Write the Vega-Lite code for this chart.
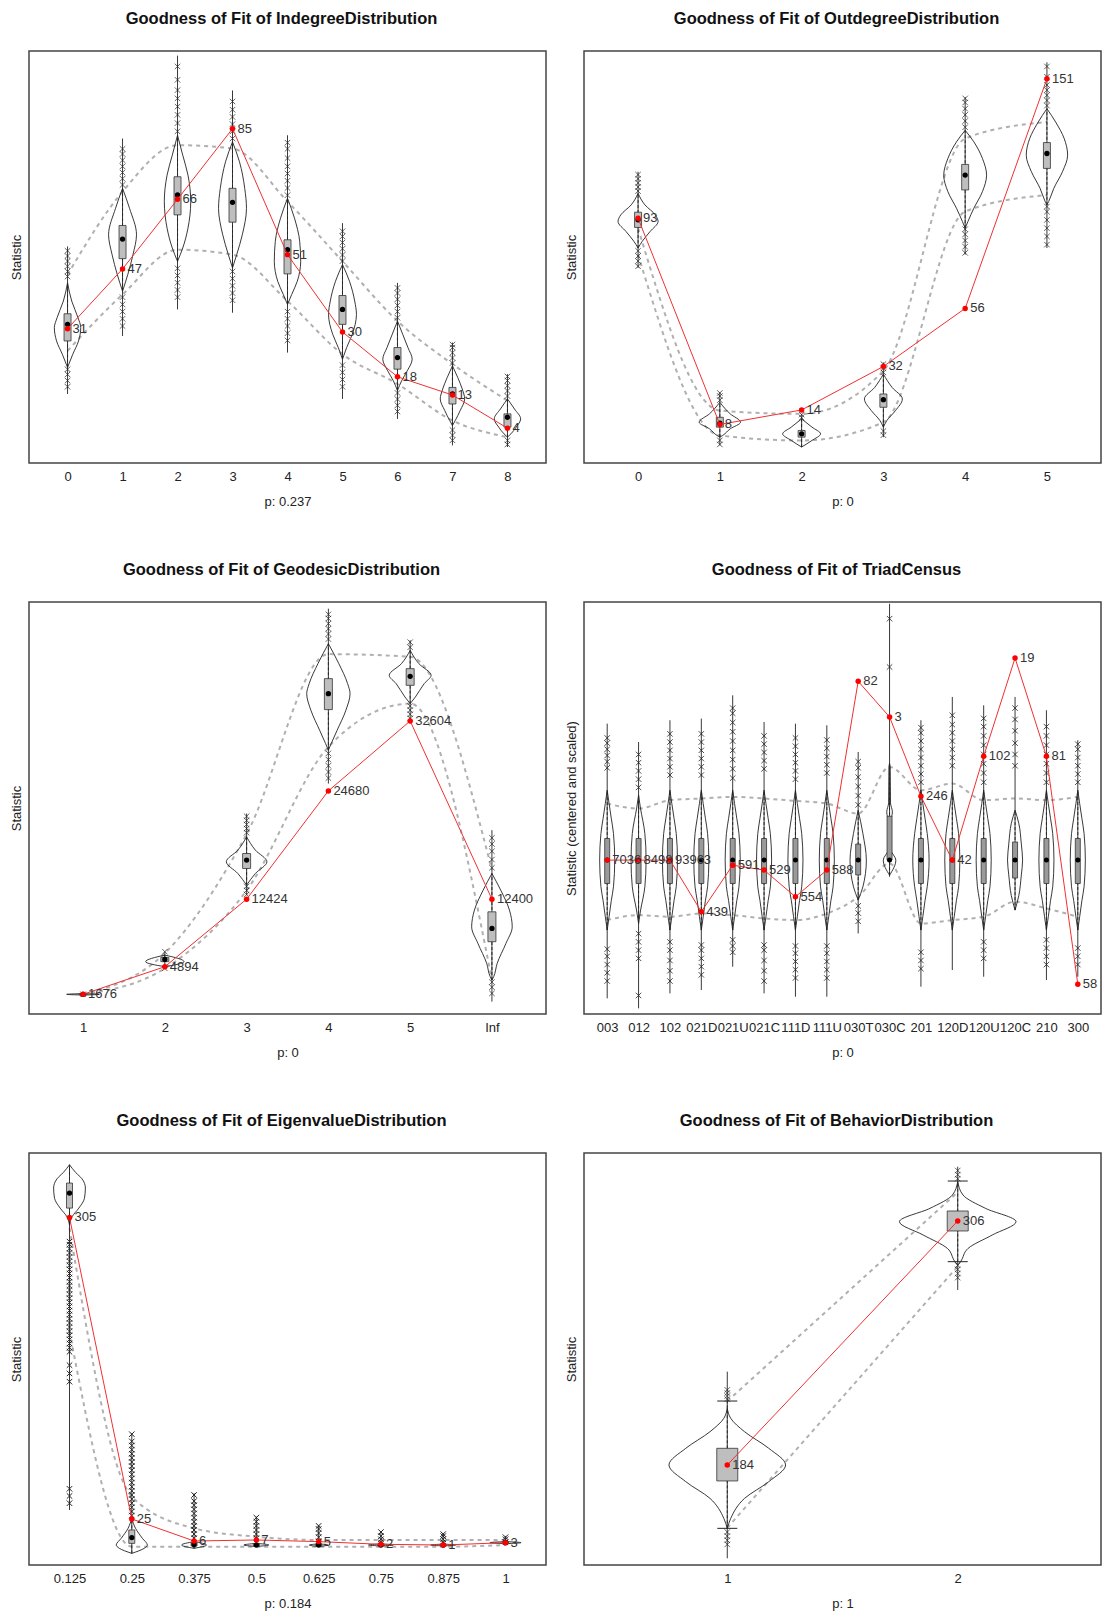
{
"$schema": "https://vega.github.io/schema/vega-lite/v6.json",
"padding": {"left": 9, "top": 9, "right": 0, "bottom": 0},
"config": {
  "font": "Liberation Sans",
  "view": {"stroke": "#444444", "strokeWidth": 1.5},
  "title": {"fontSize": 16.5, "fontWeight": "bold", "font": "Liberation Sans", "offset": 24, "color": "#111111", "dx": -6},
  "axis": {"grid": false, "domain": false, "ticks": false, "labelFontSize": 13, "titleFontSize": 13, "titleFontWeight": "normal", "labelColor": "#222222", "titleColor": "#222222", "labelFont": "Liberation Sans", "titleFont": "Liberation Sans"},
  "axisX": {"labelPadding": 7.5, "titlePadding": 12, "labelAngle": 0, "labelOverlap": false, "labelFlush": false},
  "axisY": {"labels": false, "titlePadding": 6}
},
"datasets": {
"band": [
{"p":1,"c":0,"y":182.9,"q":"hi"},{"p":1,"c":1,"y":263.4,"q":"hi"},{"p":1,"c":2,"y":308.5,"q":"hi"},{"p":1,"c":3,"y":305.3,"q":"hi"},{"p":1,"c":4,"y":253.8,"q":"hi"},{"p":1,"c":5,"y":195.8,"q":"hi"},{"p":1,"c":6,"y":137.8,"q":"hi"},{"p":1,"c":7,"y":96,"q":"hi"},{"p":1,"c":8,"y":60.5,"q":"hi"},
{"p":1,"c":0,"y":108.9,"q":"lo"},{"p":1,"c":1,"y":163.6,"q":"lo"},{"p":1,"c":2,"y":207.1,"q":"lo"},{"p":1,"c":3,"y":202.3,"q":"lo"},{"p":1,"c":4,"y":157.2,"q":"lo"},{"p":1,"c":5,"y":105.6,"q":"lo"},{"p":1,"c":6,"y":76.7,"q":"lo"},{"p":1,"c":7,"y":41.2,"q":"lo"},{"p":1,"c":8,"y":25.1,"q":"lo"},
{"p":2,"c":0,"y":228,"q":"hi"},{"p":2,"c":1,"y":50.9,"q":"hi"},{"p":2,"c":2,"y":47.7,"q":"hi"},{"p":2,"c":3,"y":89.5,"q":"hi"},{"p":2,"c":4,"y":315,"q":"hi"},{"p":2,"c":5,"y":331.1,"q":"hi"},
{"p":2,"c":0,"y":202.3,"q":"lo"},{"p":2,"c":1,"y":26.7,"q":"lo"},{"p":2,"c":2,"y":21.9,"q":"lo"},{"p":2,"c":3,"y":39.6,"q":"lo"},{"p":2,"c":4,"y":244.1,"q":"lo"},{"p":2,"c":5,"y":260.2,"q":"lo"},
{"p":3,"c":0,"y":19.1,"q":"hi"},{"p":3,"c":1,"y":59.1,"q":"hi"},{"p":3,"c":2,"y":174.6,"q":"hi"},{"p":3,"c":3,"y":349.4,"q":"hi"},{"p":3,"c":4,"y":346.8,"q":"hi"},{"p":3,"c":5,"y":139.7,"q":"hi"},
{"p":3,"c":0,"y":19.1,"q":"lo"},{"p":3,"c":1,"y":44.3,"q":"lo"},{"p":3,"c":2,"y":120,"q":"lo"},{"p":3,"c":3,"y":259.3,"q":"lo"},{"p":3,"c":4,"y":301.3,"q":"lo"},{"p":3,"c":5,"y":33,"q":"lo"},
{"p":4,"c":0,"y":204.3,"q":"hi"},{"p":4,"c":1,"y":199.5,"q":"hi"},{"p":4,"c":2,"y":207.6,"q":"hi"},{"p":4,"c":3,"y":209.2,"q":"hi"},{"p":4,"c":4,"y":210.8,"q":"hi"},{"p":4,"c":5,"y":209.2,"q":"hi"},{"p":4,"c":6,"y":206.9,"q":"hi"},{"p":4,"c":7,"y":204.3,"q":"hi"},{"p":4,"c":8,"y":194.6,"q":"hi"},{"p":4,"c":9,"y":239.9,"q":"hi"},{"p":4,"c":10,"y":217.3,"q":"hi"},{"p":4,"c":11,"y":223.7,"q":"hi"},{"p":4,"c":12,"y":207.6,"q":"hi"},{"p":4,"c":13,"y":209.2,"q":"hi"},{"p":4,"c":14,"y":207.6,"q":"hi"},{"p":4,"c":15,"y":210.8,"q":"hi"},
{"p":4,"c":0,"y":91.2,"q":"lo"},{"p":4,"c":1,"y":96,"q":"lo"},{"p":4,"c":2,"y":94.4,"q":"lo"},{"p":4,"c":3,"y":97.6,"q":"lo"},{"p":4,"c":4,"y":96,"q":"lo"},{"p":4,"c":5,"y":92.8,"q":"lo"},{"p":4,"c":6,"y":91.2,"q":"lo"},{"p":4,"c":7,"y":97.6,"q":"lo"},{"p":4,"c":8,"y":113.8,"q":"lo"},{"p":4,"c":9,"y":146.1,"q":"lo"},{"p":4,"c":10,"y":87.9,"q":"lo"},{"p":4,"c":11,"y":91.2,"q":"lo"},{"p":4,"c":12,"y":94.4,"q":"lo"},{"p":4,"c":13,"y":109,"q":"lo"},{"p":4,"c":14,"y":102.5,"q":"lo"},{"p":4,"c":15,"y":94.4,"q":"lo"},
{"p":5,"c":0,"y":327,"q":"hi"},{"p":5,"c":1,"y":66.4,"q":"hi"},{"p":5,"c":2,"y":35.6,"q":"hi"},{"p":5,"c":3,"y":27.5,"q":"hi"},{"p":5,"c":4,"y":24.3,"q":"hi"},{"p":5,"c":5,"y":24.3,"q":"hi"},{"p":5,"c":6,"y":24.3,"q":"hi"},{"p":5,"c":7,"y":24.3,"q":"hi"},
{"p":5,"c":0,"y":226.7,"q":"lo"},{"p":5,"c":1,"y":17.8,"q":"lo"},{"p":5,"c":2,"y":17.8,"q":"lo"},{"p":5,"c":3,"y":17.8,"q":"lo"},{"p":5,"c":4,"y":17.8,"q":"lo"},{"p":5,"c":5,"y":17.8,"q":"lo"},{"p":5,"c":6,"y":17.8,"q":"lo"},{"p":5,"c":7,"y":19.4,"q":"lo"},
{"p":6,"c":0,"y":159,"q":"hi"},{"p":6,"c":1,"y":362,"q":"hi"},
{"p":6,"c":0,"y":36,"q":"lo"},{"p":6,"c":1,"y":290,"q":"lo"}
],
"obs": [
{"p":1,"c":0,"y":130.4,"lab":"31"},{"p":1,"c":1,"y":188.4,"lab":"47"},{"p":1,"c":2,"y":256,"lab":"66"},{"p":1,"c":3,"y":324.6,"lab":"85"},{"p":1,"c":4,"y":202.3,"lab":"51"},{"p":1,"c":5,"y":127.2,"lab":"30"},{"p":1,"c":6,"y":83.7,"lab":"18"},{"p":1,"c":7,"y":66,"lab":"13"},{"p":1,"c":8,"y":33.8,"lab":"4"},
{"p":2,"c":0,"y":237.7,"lab":"93"},{"p":2,"c":1,"y":37.4,"lab":"8"},{"p":2,"c":2,"y":51.5,"lab":"14"},{"p":2,"c":3,"y":93.7,"lab":"32"},{"p":2,"c":4,"y":150.1,"lab":"56"},{"p":2,"c":5,"y":373,"lab":"151"},
{"p":3,"c":0,"y":19.1,"lab":"1676"},{"p":3,"c":1,"y":45.9,"lab":"4894"},{"p":3,"c":2,"y":111.5,"lab":"12424"},{"p":3,"c":3,"y":216.6,"lab":"24680"},{"p":3,"c":4,"y":284.5,"lab":"32604"},{"p":3,"c":5,"y":111.5,"lab":"12400"},
{"p":4,"c":0,"y":149.4,"lab":"7036"},{"p":4,"c":1,"y":149.4,"lab":"8498"},{"p":4,"c":2,"y":149.4,"lab":"93963"},{"p":4,"c":3,"y":99.3,"lab":"439"},{"p":4,"c":4,"y":144.5,"lab":"591"},{"p":4,"c":5,"y":139.7,"lab":"529"},{"p":4,"c":6,"y":113.8,"lab":"554"},{"p":4,"c":7,"y":139.7,"lab":"588"},{"p":4,"c":8,"y":323,"lab":"82"},{"p":4,"c":9,"y":288.4,"lab":"3"},{"p":4,"c":10,"y":211.4,"lab":"246"},{"p":4,"c":11,"y":149.4,"lab":"42"},{"p":4,"c":12,"y":250.2,"lab":"102"},{"p":4,"c":13,"y":345.6,"lab":"19"},{"p":4,"c":14,"y":250.2,"lab":"81"},{"p":4,"c":15,"y":28.8,"lab":"58"},
{"p":5,"c":0,"y":337.4,"lab":"305"},{"p":5,"c":1,"y":44.7,"lab":"25"},{"p":5,"c":2,"y":23.3,"lab":"6"},{"p":5,"c":3,"y":24.3,"lab":"7"},{"p":5,"c":4,"y":22.7,"lab":"5"},{"p":5,"c":5,"y":20.1,"lab":"2"},{"p":5,"c":6,"y":19.4,"lab":"1"},{"p":5,"c":7,"y":21.7,"lab":"3"},
{"p":6,"c":0,"y":97.1,"lab":"184"},{"p":6,"c":1,"y":334,"lab":"306"}
],
"sum": [
{"p":1,"c":0,"lo":118.5,"hi":144.9,"med":134.6,"vlo":92.8,"vhi":174.9,"elo":67,"ehi":210.3},
{"p":1,"c":1,"lo":198.4,"hi":230.6,"med":217.4,"vlo":166.8,"vhi":266.7,"elo":123.3,"ehi":315},
{"p":1,"c":2,"lo":240.9,"hi":277.9,"med":260.2,"vlo":195.8,"vhi":318.2,"elo":149.1,"ehi":395.5},
{"p":1,"c":3,"lo":233.8,"hi":266.7,"med":253.1,"vlo":189.4,"vhi":311.8,"elo":145.9,"ehi":361.7},
{"p":1,"c":4,"lo":183.6,"hi":216.7,"med":207.1,"vlo":153.9,"vhi":257,"elo":107.2,"ehi":318.2},
{"p":1,"c":5,"lo":134.6,"hi":162.6,"med":149.1,"vlo":100.8,"vhi":192.6,"elo":62.2,"ehi":232.9},
{"p":1,"c":6,"lo":91.1,"hi":112.1,"med":102.4,"vlo":70.2,"vhi":137.8,"elo":42.8,"ehi":174.9},
{"p":1,"c":7,"lo":57.3,"hi":73.4,"med":67,"vlo":36.4,"vhi":94.4,"elo":17.1,"ehi":116.9},
{"p":1,"c":8,"lo":34.8,"hi":47.7,"med":44.4,"vlo":25.1,"vhi":62.2,"elo":15.5,"ehi":86.3},
{"p":2,"c":0,"lo":228.7,"hi":243.5,"med":236.1,"vlo":208.7,"vhi":261.8,"elo":189.4,"ehi":282.8},
{"p":2,"c":1,"lo":34.8,"hi":44.4,"med":38.6,"vlo":25.1,"vhi":58.9,"elo":17.1,"ehi":68.6},
{"p":2,"c":2,"lo":25.1,"hi":31.6,"med":28.3,"vlo":15.5,"vhi":42.8,"elo":15.5,"ehi":47.7},
{"p":2,"c":3,"lo":54.1,"hi":67,"med":61.5,"vlo":34.8,"vhi":86.3,"elo":25.1,"ehi":97.6},
{"p":2,"c":4,"lo":265.1,"hi":289.9,"med":279.5,"vlo":228,"vhi":323,"elo":202.3,"ehi":355.2},
{"p":2,"c":5,"lo":286,"hi":311.1,"med":300.5,"vlo":250.6,"vhi":344,"elo":208.7,"ehi":389},
{"p":3,"c":0,"lo":18.7,"hi":19.5,"med":19.1,"vlo":18.4,"vhi":19.8,"elo":19.1,"ehi":19.1},
{"p":3,"c":1,"lo":50.8,"hi":55,"med":53,"vlo":45.9,"vhi":57.2,"elo":44.3,"ehi":60.5},
{"p":3,"c":2,"lo":141.3,"hi":155.8,"med":149.4,"vlo":125.1,"vhi":172,"elo":115.4,"ehi":194.6},
{"p":3,"c":3,"lo":295.5,"hi":325.6,"med":311,"vlo":256.1,"vhi":359.5,"elo":223.7,"ehi":393.5},
{"p":3,"c":4,"lo":319.1,"hi":335.3,"med":327.8,"vlo":301.3,"vhi":353,"elo":285.2,"ehi":362.8},
{"p":3,"c":5,"lo":70.2,"hi":99.2,"med":83.1,"vlo":33,"vhi":136.4,"elo":12,"ehi":178.5},
{"p":4,"c":0,"lo":126.7,"hi":170.4,"med":149.4,"vlo":81.5,"vhi":217.3,"elo":15.2,"ehi":281.9},
{"p":4,"c":1,"lo":126.7,"hi":170.4,"med":149.4,"vlo":87.9,"vhi":212.4,"elo":5.5,"ehi":264.1},
{"p":4,"c":2,"lo":126.7,"hi":170.4,"med":149.4,"vlo":81.5,"vhi":217.3,"elo":20,"ehi":285.2},
{"p":4,"c":3,"lo":126.7,"hi":170.4,"med":149.4,"vlo":81.5,"vhi":217.3,"elo":23.3,"ehi":286.8},
{"p":4,"c":4,"lo":126.7,"hi":170.4,"med":149.4,"vlo":81.5,"vhi":217.3,"elo":45.9,"ehi":309.4},
{"p":4,"c":5,"lo":126.7,"hi":170.4,"med":149.4,"vlo":81.5,"vhi":217.3,"elo":20,"ehi":283.5},
{"p":4,"c":6,"lo":126.7,"hi":170.4,"med":149.4,"vlo":81.5,"vhi":217.3,"elo":16.8,"ehi":281.9},
{"p":4,"c":7,"lo":126.7,"hi":170.4,"med":149.4,"vlo":81.5,"vhi":217.3,"elo":16.8,"ehi":280.3},
{"p":4,"c":8,"lo":135,"hi":165,"med":149.4,"vlo":110.6,"vhi":197.9,"elo":78.2,"ehi":254.4},
{"p":4,"c":9,"lo":149.4,"hi":192,"med":149.4,"vlo":134.8,"vhi":243.1,"elo":133.2,"ehi":398.3},
{"p":4,"c":10,"lo":126.7,"hi":170.4,"med":149.4,"vlo":81.5,"vhi":217.3,"elo":26.5,"ehi":285.2},
{"p":4,"c":11,"lo":126.7,"hi":170.4,"med":149.4,"vlo":81.5,"vhi":217.3,"elo":42.7,"ehi":307.8},
{"p":4,"c":12,"lo":126.7,"hi":170.4,"med":149.4,"vlo":81.5,"vhi":217.3,"elo":36.2,"ehi":299.7},
{"p":4,"c":13,"lo":132,"hi":167,"med":149.4,"vlo":100.9,"vhi":197.9,"elo":100.9,"ehi":307.8},
{"p":4,"c":14,"lo":126.7,"hi":170.4,"med":149.4,"vlo":81.5,"vhi":217.3,"elo":33,"ehi":294.9},
{"p":4,"c":15,"lo":126.7,"hi":170.4,"med":149.4,"vlo":81.5,"vhi":217.3,"elo":36.2,"ehi":265.8},
{"p":5,"c":0,"lo":346.5,"hi":370.8,"med":361.1,"vlo":330,"vhi":388.6,"elo":53.4,"ehi":388.6},
{"p":5,"c":1,"lo":21,"hi":34,"med":26.6,"vlo":11.3,"vhi":45.3,"elo":11.3,"ehi":127.9},
{"p":5,"c":2,"lo":18.5,"hi":21.5,"med":20,"vlo":16.2,"vhi":22.7,"elo":16.2,"ehi":69.6},
{"p":5,"c":3,"lo":18.5,"hi":20.5,"med":19.4,"vlo":18,"vhi":21,"elo":18,"ehi":47},
{"p":5,"c":4,"lo":18.5,"hi":20.5,"med":19.4,"vlo":18,"vhi":20.5,"elo":18,"ehi":38.9},
{"p":5,"c":5,"lo":18.5,"hi":20.5,"med":19.4,"vlo":18.5,"vhi":20.5,"elo":18.5,"ehi":32.4},
{"p":5,"c":6,"lo":18.5,"hi":20.3,"med":19.4,"vlo":18.5,"vhi":20.3,"elo":18.5,"ehi":30.8},
{"p":5,"c":7,"lo":20.7,"hi":22.7,"med":21.7,"vlo":20.7,"vhi":22.7,"elo":20.7,"ehi":28},
{"p":6,"c":0,"lo":81.6,"hi":113.3,"med":97.1,"vlo":35.6,"vhi":159.2,"elo":6.5,"ehi":187.7},
{"p":6,"c":1,"lo":324.3,"hi":343.7,"med":334,"vlo":294.5,"vhi":372.8,"elo":267,"ehi":386.7}
],
"caps": [
{"p":6,"c":0,"y":35.6},{"p":6,"c":0,"y":159.2},{"p":6,"c":1,"y":294.5},{"p":6,"c":1,"y":372.8}
],
"crs": [
{"p":1,"c":0,"y":181},{"p":1,"c":0,"y":186},{"p":1,"c":0,"y":191},{"p":1,"c":0,"y":196},{"p":1,"c":0,"y":201},{"p":1,"c":0,"y":206},{"p":1,"c":0,"y":74},{"p":1,"c":0,"y":80},{"p":1,"c":0,"y":86},{"p":1,"c":0,"y":91},
{"p":1,"c":1,"y":270},{"p":1,"c":1,"y":276},{"p":1,"c":1,"y":282},{"p":1,"c":1,"y":288},{"p":1,"c":1,"y":294},{"p":1,"c":1,"y":300},{"p":1,"c":1,"y":305},{"p":1,"c":1,"y":133},{"p":1,"c":1,"y":140},{"p":1,"c":1,"y":147},{"p":1,"c":1,"y":154},{"p":1,"c":1,"y":161},
{"p":1,"c":2,"y":322},{"p":1,"c":2,"y":330},{"p":1,"c":2,"y":338},{"p":1,"c":2,"y":346},{"p":1,"c":2,"y":354},{"p":1,"c":2,"y":362},{"p":1,"c":2,"y":372},{"p":1,"c":2,"y":385},{"p":1,"c":2,"y":161},{"p":1,"c":2,"y":168},{"p":1,"c":2,"y":175},{"p":1,"c":2,"y":182},{"p":1,"c":2,"y":189},
{"p":1,"c":3,"y":315},{"p":1,"c":3,"y":322},{"p":1,"c":3,"y":329},{"p":1,"c":3,"y":336},{"p":1,"c":3,"y":343},{"p":1,"c":3,"y":351},{"p":1,"c":3,"y":158},{"p":1,"c":3,"y":165},{"p":1,"c":3,"y":172},{"p":1,"c":3,"y":179},{"p":1,"c":3,"y":186},
{"p":1,"c":4,"y":260},{"p":1,"c":4,"y":267},{"p":1,"c":4,"y":274},{"p":1,"c":4,"y":281},{"p":1,"c":4,"y":288},{"p":1,"c":4,"y":296},{"p":1,"c":4,"y":305},{"p":1,"c":4,"y":311},{"p":1,"c":4,"y":119},{"p":1,"c":4,"y":126},{"p":1,"c":4,"y":133},{"p":1,"c":4,"y":140},{"p":1,"c":4,"y":147},
{"p":1,"c":5,"y":196},{"p":1,"c":5,"y":202},{"p":1,"c":5,"y":208},{"p":1,"c":5,"y":214},{"p":1,"c":5,"y":220},{"p":1,"c":5,"y":225},{"p":1,"c":5,"y":74},{"p":1,"c":5,"y":81},{"p":1,"c":5,"y":88},{"p":1,"c":5,"y":95},
{"p":1,"c":6,"y":141},{"p":1,"c":6,"y":147},{"p":1,"c":6,"y":153},{"p":1,"c":6,"y":159},{"p":1,"c":6,"y":165},{"p":1,"c":6,"y":170},{"p":1,"c":6,"y":50},{"p":1,"c":6,"y":56},{"p":1,"c":6,"y":62},{"p":1,"c":6,"y":68},
{"p":1,"c":7,"y":97},{"p":1,"c":7,"y":102},{"p":1,"c":7,"y":107},{"p":1,"c":7,"y":112},{"p":1,"c":7,"y":115},{"p":1,"c":7,"y":22},{"p":1,"c":7,"y":27},{"p":1,"c":7,"y":32},
{"p":1,"c":8,"y":65},{"p":1,"c":8,"y":70},{"p":1,"c":8,"y":75},{"p":1,"c":8,"y":80},{"p":1,"c":8,"y":84},{"p":1,"c":8,"y":18},{"p":1,"c":8,"y":22},
{"p":2,"c":0,"y":264},{"p":2,"c":0,"y":268},{"p":2,"c":0,"y":272},{"p":2,"c":0,"y":276},{"p":2,"c":0,"y":280},{"p":2,"c":0,"y":191},{"p":2,"c":0,"y":196},{"p":2,"c":0,"y":201},{"p":2,"c":0,"y":206},
{"p":2,"c":1,"y":61},{"p":2,"c":1,"y":65},{"p":2,"c":1,"y":68},{"p":2,"c":1,"y":18},{"p":2,"c":1,"y":22},
{"p":2,"c":2,"y":44},{"p":2,"c":2,"y":47},
{"p":2,"c":3,"y":88},{"p":2,"c":3,"y":92},{"p":2,"c":3,"y":96},{"p":2,"c":3,"y":27},{"p":2,"c":3,"y":31},
{"p":2,"c":4,"y":326},{"p":2,"c":4,"y":332},{"p":2,"c":4,"y":338},{"p":2,"c":4,"y":344},{"p":2,"c":4,"y":350},{"p":2,"c":4,"y":354},{"p":2,"c":4,"y":204},{"p":2,"c":4,"y":210},{"p":2,"c":4,"y":216},{"p":2,"c":4,"y":222},{"p":2,"c":4,"y":227},
{"p":2,"c":5,"y":347},{"p":2,"c":5,"y":352},{"p":2,"c":5,"y":357},{"p":2,"c":5,"y":362},{"p":2,"c":5,"y":367},{"p":2,"c":5,"y":375},{"p":2,"c":5,"y":385},{"p":2,"c":5,"y":212},{"p":2,"c":5,"y":220},{"p":2,"c":5,"y":228},{"p":2,"c":5,"y":236},{"p":2,"c":5,"y":244},{"p":2,"c":5,"y":249},
{"p":3,"c":0,"y":19.1},
{"p":3,"c":1,"y":60.5},{"p":3,"c":1,"y":44.3},
{"p":3,"c":2,"y":176},{"p":3,"c":2,"y":180},{"p":3,"c":2,"y":184},{"p":3,"c":2,"y":188},{"p":3,"c":2,"y":192},{"p":3,"c":2,"y":116},{"p":3,"c":2,"y":120},{"p":3,"c":2,"y":124},
{"p":3,"c":3,"y":364},{"p":3,"c":3,"y":369},{"p":3,"c":3,"y":374},{"p":3,"c":3,"y":379},{"p":3,"c":3,"y":384},{"p":3,"c":3,"y":388},{"p":3,"c":3,"y":229},{"p":3,"c":3,"y":235},{"p":3,"c":3,"y":241},{"p":3,"c":3,"y":247},{"p":3,"c":3,"y":253},
{"p":3,"c":4,"y":356},{"p":3,"c":4,"y":361},{"p":3,"c":4,"y":287},{"p":3,"c":4,"y":291},{"p":3,"c":4,"y":295},{"p":3,"c":4,"y":299},
{"p":3,"c":5,"y":142},{"p":3,"c":5,"y":150},{"p":3,"c":5,"y":158},{"p":3,"c":5,"y":165},{"p":3,"c":5,"y":171},{"p":3,"c":5,"y":20},{"p":3,"c":5,"y":26},{"p":3,"c":5,"y":31},
{"p":4,"c":0,"y":239},{"p":4,"c":0,"y":245},{"p":4,"c":0,"y":251},{"p":4,"c":0,"y":257},{"p":4,"c":0,"y":263},{"p":4,"c":0,"y":268},{"p":4,"c":0,"y":32},{"p":4,"c":0,"y":40},{"p":4,"c":0,"y":48},{"p":4,"c":0,"y":56},{"p":4,"c":0,"y":63},
{"p":4,"c":1,"y":220},{"p":4,"c":1,"y":228},{"p":4,"c":1,"y":236},{"p":4,"c":1,"y":244},{"p":4,"c":1,"y":252},{"p":4,"c":1,"y":54},{"p":4,"c":1,"y":62},{"p":4,"c":1,"y":70},{"p":4,"c":1,"y":78},{"p":4,"c":1,"y":18},
{"p":4,"c":2,"y":232},{"p":4,"c":2,"y":240},{"p":4,"c":2,"y":248},{"p":4,"c":2,"y":256},{"p":4,"c":2,"y":264},{"p":4,"c":2,"y":272},{"p":4,"c":2,"y":32},{"p":4,"c":2,"y":42},{"p":4,"c":2,"y":52},{"p":4,"c":2,"y":62},{"p":4,"c":2,"y":70},
{"p":4,"c":3,"y":232},{"p":4,"c":3,"y":240},{"p":4,"c":3,"y":248},{"p":4,"c":3,"y":256},{"p":4,"c":3,"y":264},{"p":4,"c":3,"y":272},{"p":4,"c":3,"y":38},{"p":4,"c":3,"y":46},{"p":4,"c":3,"y":54},{"p":4,"c":3,"y":62},{"p":4,"c":3,"y":67},
{"p":4,"c":4,"y":229},{"p":4,"c":4,"y":238},{"p":4,"c":4,"y":247},{"p":4,"c":4,"y":256},{"p":4,"c":4,"y":265},{"p":4,"c":4,"y":274},{"p":4,"c":4,"y":283},{"p":4,"c":4,"y":292},{"p":4,"c":4,"y":297},{"p":4,"c":4,"y":60},{"p":4,"c":4,"y":66},{"p":4,"c":4,"y":72},
{"p":4,"c":5,"y":238},{"p":4,"c":5,"y":246},{"p":4,"c":5,"y":254},{"p":4,"c":5,"y":262},{"p":4,"c":5,"y":270},{"p":4,"c":5,"y":32},{"p":4,"c":5,"y":42},{"p":4,"c":5,"y":52},{"p":4,"c":5,"y":62},{"p":4,"c":5,"y":67},
{"p":4,"c":6,"y":228},{"p":4,"c":6,"y":236},{"p":4,"c":6,"y":244},{"p":4,"c":6,"y":252},{"p":4,"c":6,"y":260},{"p":4,"c":6,"y":268},{"p":4,"c":6,"y":35},{"p":4,"c":6,"y":43},{"p":4,"c":6,"y":51},{"p":4,"c":6,"y":59},{"p":4,"c":6,"y":66},
{"p":4,"c":7,"y":234},{"p":4,"c":7,"y":242},{"p":4,"c":7,"y":250},{"p":4,"c":7,"y":258},{"p":4,"c":7,"y":266},{"p":4,"c":7,"y":35},{"p":4,"c":7,"y":43},{"p":4,"c":7,"y":51},{"p":4,"c":7,"y":59},{"p":4,"c":7,"y":66},
{"p":4,"c":8,"y":203},{"p":4,"c":8,"y":212},{"p":4,"c":8,"y":221},{"p":4,"c":8,"y":230},{"p":4,"c":8,"y":239},{"p":4,"c":8,"y":245},{"p":4,"c":8,"y":90},{"p":4,"c":8,"y":98},{"p":4,"c":8,"y":105},
{"p":4,"c":9,"y":383.8},{"p":4,"c":9,"y":336.9},
{"p":4,"c":10,"y":225},{"p":4,"c":10,"y":233},{"p":4,"c":10,"y":241},{"p":4,"c":10,"y":249},{"p":4,"c":10,"y":257},{"p":4,"c":10,"y":265},{"p":4,"c":10,"y":273},{"p":4,"c":10,"y":278},{"p":4,"c":10,"y":44},{"p":4,"c":10,"y":52},{"p":4,"c":10,"y":60},
{"p":4,"c":11,"y":241},{"p":4,"c":11,"y":249},{"p":4,"c":11,"y":257},{"p":4,"c":11,"y":265},{"p":4,"c":11,"y":273},{"p":4,"c":11,"y":281},{"p":4,"c":11,"y":290},
{"p":4,"c":12,"y":225},{"p":4,"c":12,"y":234},{"p":4,"c":12,"y":243},{"p":4,"c":12,"y":252},{"p":4,"c":12,"y":261},{"p":4,"c":12,"y":270},{"p":4,"c":12,"y":279},{"p":4,"c":12,"y":287},{"p":4,"c":12,"y":54},{"p":4,"c":12,"y":62},{"p":4,"c":12,"y":70},
{"p":4,"c":13,"y":241},{"p":4,"c":13,"y":252},{"p":4,"c":13,"y":263},{"p":4,"c":13,"y":275},{"p":4,"c":13,"y":286},{"p":4,"c":13,"y":297},
{"p":4,"c":14,"y":225},{"p":4,"c":14,"y":234},{"p":4,"c":14,"y":243},{"p":4,"c":14,"y":252},{"p":4,"c":14,"y":261},{"p":4,"c":14,"y":270},{"p":4,"c":14,"y":279},{"p":4,"c":14,"y":48},{"p":4,"c":14,"y":56},{"p":4,"c":14,"y":64},{"p":4,"c":14,"y":72},
{"p":4,"c":15,"y":225},{"p":4,"c":15,"y":233},{"p":4,"c":15,"y":241},{"p":4,"c":15,"y":249},{"p":4,"c":15,"y":257},{"p":4,"c":15,"y":262},{"p":4,"c":15,"y":48},{"p":4,"c":15,"y":56},{"p":4,"c":15,"y":64},
{"p":5,"c":0,"y":178},{"p":5,"c":0,"y":186},{"p":5,"c":0,"y":194},{"p":5,"c":0,"y":207},{"p":5,"c":0,"y":211},{"p":5,"c":0,"y":215},{"p":5,"c":0,"y":219},{"p":5,"c":0,"y":223},{"p":5,"c":0,"y":227},{"p":5,"c":0,"y":231},{"p":5,"c":0,"y":235},{"p":5,"c":0,"y":239},{"p":5,"c":0,"y":243},{"p":5,"c":0,"y":247},{"p":5,"c":0,"y":251},{"p":5,"c":0,"y":255},{"p":5,"c":0,"y":259},{"p":5,"c":0,"y":263},{"p":5,"c":0,"y":267},{"p":5,"c":0,"y":271},{"p":5,"c":0,"y":275},{"p":5,"c":0,"y":279},{"p":5,"c":0,"y":283},{"p":5,"c":0,"y":287},{"p":5,"c":0,"y":291},{"p":5,"c":0,"y":295},{"p":5,"c":0,"y":299},{"p":5,"c":0,"y":303},{"p":5,"c":0,"y":307},{"p":5,"c":0,"y":311},{"p":5,"c":0,"y":314},{"p":5,"c":0,"y":60},{"p":5,"c":0,"y":67},{"p":5,"c":0,"y":74},
{"p":5,"c":1,"y":48},{"p":5,"c":1,"y":52},{"p":5,"c":1,"y":56},{"p":5,"c":1,"y":60},{"p":5,"c":1,"y":64},{"p":5,"c":1,"y":68},{"p":5,"c":1,"y":72},{"p":5,"c":1,"y":76},{"p":5,"c":1,"y":80},{"p":5,"c":1,"y":84},{"p":5,"c":1,"y":88},{"p":5,"c":1,"y":92},{"p":5,"c":1,"y":96},{"p":5,"c":1,"y":100},{"p":5,"c":1,"y":104},{"p":5,"c":1,"y":108},{"p":5,"c":1,"y":112},{"p":5,"c":1,"y":116},{"p":5,"c":1,"y":120},{"p":5,"c":1,"y":127},
{"p":5,"c":2,"y":26},{"p":5,"c":2,"y":30},{"p":5,"c":2,"y":34},{"p":5,"c":2,"y":38},{"p":5,"c":2,"y":42},{"p":5,"c":2,"y":46},{"p":5,"c":2,"y":50},{"p":5,"c":2,"y":54},{"p":5,"c":2,"y":58},{"p":5,"c":2,"y":62},{"p":5,"c":2,"y":68},
{"p":5,"c":3,"y":26},{"p":5,"c":3,"y":30},{"p":5,"c":3,"y":34},{"p":5,"c":3,"y":38},{"p":5,"c":3,"y":42},{"p":5,"c":3,"y":46},
{"p":5,"c":4,"y":23},{"p":5,"c":4,"y":27},{"p":5,"c":4,"y":31},{"p":5,"c":4,"y":35},{"p":5,"c":4,"y":38},
{"p":5,"c":5,"y":22},{"p":5,"c":5,"y":25},{"p":5,"c":5,"y":28},{"p":5,"c":5,"y":32},
{"p":5,"c":6,"y":22},{"p":5,"c":6,"y":25},{"p":5,"c":6,"y":28},{"p":5,"c":6,"y":30},
{"p":5,"c":7,"y":22},{"p":5,"c":7,"y":25},{"p":5,"c":7,"y":27},
{"p":6,"c":0,"y":161},{"p":6,"c":0,"y":164},{"p":6,"c":0,"y":167},{"p":6,"c":0,"y":170},{"p":6,"c":0,"y":20},{"p":6,"c":0,"y":24},{"p":6,"c":0,"y":28},{"p":6,"c":0,"y":32},
{"p":6,"c":1,"y":375},{"p":6,"c":1,"y":379},{"p":6,"c":1,"y":383},{"p":6,"c":1,"y":279},{"p":6,"c":1,"y":283},{"p":6,"c":1,"y":287},{"p":6,"c":1,"y":291}
],
"viol": [
{"p":1,"c":0,"y":92.8,"xl":0,"xr":0},{"p":1,"c":0,"y":105.6,"xl":-0.095,"xr":0.095},{"p":1,"c":0,"y":118.5,"xl":-0.2,"xr":0.2},{"p":1,"c":0,"y":131.4,"xl":-0.24,"xr":0.24},{"p":1,"c":0,"y":141.1,"xl":-0.19,"xr":0.19},{"p":1,"c":0,"y":157.2,"xl":-0.076,"xr":0.076},{"p":1,"c":0,"y":174.9,"xl":0,"xr":0},
{"p":1,"c":1,"y":166.8,"xl":1,"xr":1},{"p":1,"c":1,"y":182.9,"xl":0.905,"xr":1.095},{"p":1,"c":1,"y":202.3,"xl":0.81,"xr":1.19},{"p":1,"c":1,"y":221.6,"xl":0.746,"xr":1.254},{"p":1,"c":1,"y":247.3,"xl":0.873,"xr":1.127},{"p":1,"c":1,"y":266.7,"xl":1,"xr":1},
{"p":1,"c":2,"y":195.8,"xl":2,"xr":2},{"p":1,"c":2,"y":208.7,"xl":1.905,"xr":2.095},{"p":1,"c":2,"y":228,"xl":1.81,"xr":2.19},{"p":1,"c":2,"y":253.8,"xl":1.76,"xr":2.24},{"p":1,"c":2,"y":279.5,"xl":1.81,"xr":2.19},{"p":1,"c":2,"y":298.9,"xl":1.905,"xr":2.095},{"p":1,"c":2,"y":318.2,"xl":2,"xr":2},
{"p":1,"c":3,"y":189.4,"xl":3,"xr":3},{"p":1,"c":3,"y":202.3,"xl":2.924,"xr":3.076},{"p":1,"c":3,"y":221.6,"xl":2.822,"xr":3.178},{"p":1,"c":3,"y":247.3,"xl":2.746,"xr":3.254},{"p":1,"c":3,"y":266.7,"xl":2.778,"xr":3.222},{"p":1,"c":3,"y":292.4,"xl":2.873,"xr":3.127},{"p":1,"c":3,"y":311.8,"xl":3,"xr":3},
{"p":1,"c":4,"y":153.9,"xl":4,"xr":4},{"p":1,"c":4,"y":163.6,"xl":3.924,"xr":4.076},{"p":1,"c":4,"y":176.5,"xl":3.822,"xr":4.178},{"p":1,"c":4,"y":195.8,"xl":3.76,"xr":4.24},{"p":1,"c":4,"y":215.1,"xl":3.778,"xr":4.222},{"p":1,"c":4,"y":237.7,"xl":3.873,"xr":4.127},{"p":1,"c":4,"y":257,"xl":4,"xr":4},
{"p":1,"c":5,"y":100.8,"xl":5,"xr":5},{"p":1,"c":5,"y":112.1,"xl":4.924,"xr":5.076},{"p":1,"c":5,"y":125,"xl":4.822,"xr":5.178},{"p":1,"c":5,"y":144.3,"xl":4.746,"xr":5.254},{"p":1,"c":5,"y":157.2,"xl":4.778,"xr":5.222},{"p":1,"c":5,"y":176.5,"xl":4.873,"xr":5.127},{"p":1,"c":5,"y":192.6,"xl":5,"xr":5},
{"p":1,"c":6,"y":70.2,"xl":6,"xr":6},{"p":1,"c":6,"y":79.9,"xl":5.924,"xr":6.076},{"p":1,"c":6,"y":89.5,"xl":5.822,"xr":6.178},{"p":1,"c":6,"y":100.8,"xl":5.733,"xr":6.267},{"p":1,"c":6,"y":112.1,"xl":5.81,"xr":6.19},{"p":1,"c":6,"y":125,"xl":5.905,"xr":6.095},{"p":1,"c":6,"y":137.8,"xl":6,"xr":6},
{"p":1,"c":7,"y":36.4,"xl":7,"xr":7},{"p":1,"c":7,"y":41.2,"xl":6.95,"xr":7.05},{"p":1,"c":7,"y":50.9,"xl":6.86,"xr":7.14},{"p":1,"c":7,"y":62.2,"xl":6.778,"xr":7.222},{"p":1,"c":7,"y":71.8,"xl":6.822,"xr":7.178},{"p":1,"c":7,"y":83.1,"xl":6.905,"xr":7.095},{"p":1,"c":7,"y":94.4,"xl":7,"xr":7},
{"p":1,"c":8,"y":25.1,"xl":8,"xr":8},{"p":1,"c":8,"y":28.3,"xl":7.937,"xr":8.063},{"p":1,"c":8,"y":34.8,"xl":7.841,"xr":8.159},{"p":1,"c":8,"y":42.8,"xl":7.76,"xr":8.24},{"p":1,"c":8,"y":52.5,"xl":7.873,"xr":8.127},{"p":1,"c":8,"y":62.2,"xl":8,"xr":8},
{"p":2,"c":0,"y":208.7,"xl":0,"xr":0},{"p":2,"c":0,"y":215.1,"xl":-0.05,"xr":0.05},{"p":2,"c":0,"y":224.8,"xl":-0.148,"xr":0.148},{"p":2,"c":0,"y":234.5,"xl":-0.245,"xr":0.245},{"p":2,"c":0,"y":240.9,"xl":-0.211,"xr":0.211},{"p":2,"c":0,"y":250.6,"xl":-0.084,"xr":0.084},{"p":2,"c":0,"y":261.8,"xl":0,"xr":0},
{"p":2,"c":1,"y":25.1,"xl":1,"xr":1},{"p":2,"c":1,"y":26.7,"xl":0.966,"xr":1.034},{"p":2,"c":1,"y":33.2,"xl":0.873,"xr":1.127},{"p":2,"c":1,"y":39.6,"xl":0.747,"xr":1.253},{"p":2,"c":1,"y":47.7,"xl":0.873,"xr":1.127},{"p":2,"c":1,"y":58.9,"xl":1,"xr":1},
{"p":2,"c":2,"y":15.5,"xl":2,"xr":2},{"p":2,"c":2,"y":21.9,"xl":1.873,"xr":2.127},{"p":2,"c":2,"y":28.3,"xl":1.768,"xr":2.232},{"p":2,"c":2,"y":34.8,"xl":1.873,"xr":2.127},{"p":2,"c":2,"y":42.8,"xl":2,"xr":2},
{"p":2,"c":3,"y":34.8,"xl":3,"xr":3},{"p":2,"c":3,"y":41.2,"xl":2.958,"xr":3.042},{"p":2,"c":3,"y":50.9,"xl":2.852,"xr":3.148},{"p":2,"c":3,"y":62.2,"xl":2.768,"xr":3.232},{"p":2,"c":3,"y":73.4,"xl":2.894,"xr":3.106},{"p":2,"c":3,"y":86.3,"xl":3,"xr":3},
{"p":2,"c":4,"y":228,"xl":4,"xr":4},{"p":2,"c":4,"y":234.5,"xl":3.966,"xr":4.034},{"p":2,"c":4,"y":247.3,"xl":3.894,"xr":4.106},{"p":2,"c":4,"y":263.4,"xl":3.789,"xr":4.211},{"p":2,"c":4,"y":279.5,"xl":3.738,"xr":4.262},{"p":2,"c":4,"y":295.7,"xl":3.789,"xr":4.211},{"p":2,"c":4,"y":311.8,"xl":3.894,"xr":4.106},{"p":2,"c":4,"y":323,"xl":4,"xr":4},
{"p":2,"c":5,"y":250.6,"xl":5,"xr":5},{"p":2,"c":5,"y":253.8,"xl":4.979,"xr":5.021},{"p":2,"c":5,"y":266.7,"xl":4.916,"xr":5.084},{"p":2,"c":5,"y":282.8,"xl":4.81,"xr":5.19},{"p":2,"c":5,"y":298.9,"xl":4.747,"xr":5.253},{"p":2,"c":5,"y":315,"xl":4.789,"xr":5.211},{"p":2,"c":5,"y":331.1,"xl":4.894,"xr":5.106},{"p":2,"c":5,"y":344,"xl":5,"xr":5},
{"p":3,"c":0,"y":18.4,"xl":0,"xr":0},{"p":3,"c":0,"y":19.1,"xl":-0.2,"xr":0.2},{"p":3,"c":0,"y":19.8,"xl":0,"xr":0},
{"p":3,"c":1,"y":45.9,"xl":1,"xr":1},{"p":3,"c":1,"y":50.8,"xl":0.765,"xr":1.235},{"p":3,"c":1,"y":57.2,"xl":1,"xr":1},
{"p":3,"c":2,"y":125.1,"xl":2,"xr":2},{"p":3,"c":2,"y":136.4,"xl":1.893,"xr":2.107},{"p":3,"c":2,"y":147.8,"xl":1.752,"xr":2.248},{"p":3,"c":2,"y":159.1,"xl":1.893,"xr":2.107},{"p":3,"c":2,"y":172,"xl":2,"xr":2},
{"p":3,"c":3,"y":256.1,"xl":3,"xr":3},{"p":3,"c":3,"y":262.5,"xl":2.966,"xr":3.034},{"p":3,"c":3,"y":275.5,"xl":2.893,"xr":3.107},{"p":3,"c":3,"y":294.9,"xl":2.786,"xr":3.214},{"p":3,"c":3,"y":311,"xl":2.735,"xr":3.265},{"p":3,"c":3,"y":320.7,"xl":2.765,"xr":3.235},{"p":3,"c":3,"y":340.1,"xl":2.872,"xr":3.128},{"p":3,"c":3,"y":359.5,"xl":3,"xr":3},
{"p":3,"c":4,"y":301.3,"xl":4,"xr":4},{"p":3,"c":4,"y":307.8,"xl":3.936,"xr":4.064},{"p":3,"c":4,"y":320.7,"xl":3.829,"xr":4.171},{"p":3,"c":4,"y":328.8,"xl":3.744,"xr":4.256},{"p":3,"c":4,"y":340.1,"xl":3.893,"xr":4.107},{"p":3,"c":4,"y":353,"xl":4,"xr":4},
{"p":3,"c":5,"y":33,"xl":5,"xr":5},{"p":3,"c":5,"y":36.2,"xl":4.979,"xr":5.021},{"p":3,"c":5,"y":49.1,"xl":4.936,"xr":5.064},{"p":3,"c":5,"y":68.5,"xl":4.829,"xr":5.171},{"p":3,"c":5,"y":84.7,"xl":4.752,"xr":5.248},{"p":3,"c":5,"y":100.9,"xl":4.786,"xr":5.214},{"p":3,"c":5,"y":120.3,"xl":4.893,"xr":5.107},{"p":3,"c":5,"y":136.4,"xl":5,"xr":5},
{"p":4,"c":0,"y":81.5,"xl":0,"xr":0},{"p":4,"c":0,"y":94.4,"xl":-0.06,"xr":0.06},{"p":4,"c":0,"y":110,"xl":-0.13,"xr":0.13},{"p":4,"c":0,"y":123.5,"xl":-0.2,"xr":0.2},{"p":4,"c":0,"y":149.4,"xl":-0.24,"xr":0.24},{"p":4,"c":0,"y":175.2,"xl":-0.2,"xr":0.2},{"p":4,"c":0,"y":190,"xl":-0.13,"xr":0.13},{"p":4,"c":0,"y":204.3,"xl":-0.06,"xr":0.06},{"p":4,"c":0,"y":217.3,"xl":0,"xr":0},
{"p":4,"c":1,"y":87.9,"xl":1,"xr":1},{"p":4,"c":1,"y":100,"xl":0.94,"xr":1.06},{"p":4,"c":1,"y":123.5,"xl":0.8,"xr":1.2},{"p":4,"c":1,"y":149.4,"xl":0.76,"xr":1.24},{"p":4,"c":1,"y":175.2,"xl":0.8,"xr":1.2},{"p":4,"c":1,"y":200,"xl":0.94,"xr":1.06},{"p":4,"c":1,"y":212.4,"xl":1,"xr":1},
{"p":4,"c":2,"y":81.5,"xl":2,"xr":2},{"p":4,"c":2,"y":94.4,"xl":1.94,"xr":2.06},{"p":4,"c":2,"y":110,"xl":1.87,"xr":2.13},{"p":4,"c":2,"y":123.5,"xl":1.8,"xr":2.2},{"p":4,"c":2,"y":149.4,"xl":1.76,"xr":2.24},{"p":4,"c":2,"y":175.2,"xl":1.8,"xr":2.2},{"p":4,"c":2,"y":190,"xl":1.87,"xr":2.13},{"p":4,"c":2,"y":204.3,"xl":1.94,"xr":2.06},{"p":4,"c":2,"y":217.3,"xl":2,"xr":2},
{"p":4,"c":3,"y":81.5,"xl":3,"xr":3},{"p":4,"c":3,"y":94.4,"xl":2.94,"xr":3.06},{"p":4,"c":3,"y":110,"xl":2.87,"xr":3.13},{"p":4,"c":3,"y":123.5,"xl":2.8,"xr":3.2},{"p":4,"c":3,"y":149.4,"xl":2.76,"xr":3.24},{"p":4,"c":3,"y":175.2,"xl":2.8,"xr":3.2},{"p":4,"c":3,"y":190,"xl":2.87,"xr":3.13},{"p":4,"c":3,"y":204.3,"xl":2.94,"xr":3.06},{"p":4,"c":3,"y":217.3,"xl":3,"xr":3},
{"p":4,"c":4,"y":81.5,"xl":4,"xr":4},{"p":4,"c":4,"y":94.4,"xl":3.94,"xr":4.06},{"p":4,"c":4,"y":110,"xl":3.87,"xr":4.13},{"p":4,"c":4,"y":123.5,"xl":3.8,"xr":4.2},{"p":4,"c":4,"y":149.4,"xl":3.76,"xr":4.24},{"p":4,"c":4,"y":175.2,"xl":3.8,"xr":4.2},{"p":4,"c":4,"y":190,"xl":3.87,"xr":4.13},{"p":4,"c":4,"y":204.3,"xl":3.94,"xr":4.06},{"p":4,"c":4,"y":217.3,"xl":4,"xr":4},
{"p":4,"c":5,"y":81.5,"xl":5,"xr":5},{"p":4,"c":5,"y":94.4,"xl":4.94,"xr":5.06},{"p":4,"c":5,"y":110,"xl":4.87,"xr":5.13},{"p":4,"c":5,"y":123.5,"xl":4.8,"xr":5.2},{"p":4,"c":5,"y":149.4,"xl":4.76,"xr":5.24},{"p":4,"c":5,"y":175.2,"xl":4.8,"xr":5.2},{"p":4,"c":5,"y":190,"xl":4.87,"xr":5.13},{"p":4,"c":5,"y":204.3,"xl":4.94,"xr":5.06},{"p":4,"c":5,"y":217.3,"xl":5,"xr":5},
{"p":4,"c":6,"y":81.5,"xl":6,"xr":6},{"p":4,"c":6,"y":94.4,"xl":5.94,"xr":6.06},{"p":4,"c":6,"y":110,"xl":5.87,"xr":6.13},{"p":4,"c":6,"y":123.5,"xl":5.8,"xr":6.2},{"p":4,"c":6,"y":149.4,"xl":5.76,"xr":6.24},{"p":4,"c":6,"y":175.2,"xl":5.8,"xr":6.2},{"p":4,"c":6,"y":190,"xl":5.87,"xr":6.13},{"p":4,"c":6,"y":204.3,"xl":5.94,"xr":6.06},{"p":4,"c":6,"y":217.3,"xl":6,"xr":6},
{"p":4,"c":7,"y":81.5,"xl":7,"xr":7},{"p":4,"c":7,"y":94.4,"xl":6.94,"xr":7.06},{"p":4,"c":7,"y":110,"xl":6.87,"xr":7.13},{"p":4,"c":7,"y":123.5,"xl":6.8,"xr":7.2},{"p":4,"c":7,"y":149.4,"xl":6.76,"xr":7.24},{"p":4,"c":7,"y":175.2,"xl":6.8,"xr":7.2},{"p":4,"c":7,"y":190,"xl":6.87,"xr":7.13},{"p":4,"c":7,"y":204.3,"xl":6.94,"xr":7.06},{"p":4,"c":7,"y":217.3,"xl":7,"xr":7},
{"p":4,"c":8,"y":110.6,"xl":8,"xr":8},{"p":4,"c":8,"y":123.5,"xl":7.85,"xr":8.15},{"p":4,"c":8,"y":149.4,"xl":7.74,"xr":8.26},{"p":4,"c":8,"y":175.2,"xl":7.85,"xr":8.15},{"p":4,"c":8,"y":197.9,"xl":8,"xr":8},
{"p":4,"c":9,"y":134.8,"xl":9,"xr":9},{"p":4,"c":9,"y":149.4,"xl":8.8,"xr":9.2},{"p":4,"c":9,"y":159.1,"xl":8.95,"xr":9.05},{"p":4,"c":9,"y":185,"xl":8.97,"xr":9.03},{"p":4,"c":9,"y":196.2,"xl":8.91,"xr":9.09},{"p":4,"c":9,"y":205,"xl":8.97,"xr":9.03},{"p":4,"c":9,"y":239.9,"xl":8.98,"xr":9.02},{"p":4,"c":9,"y":243.1,"xl":9,"xr":9},
{"p":4,"c":10,"y":81.5,"xl":10,"xr":10},{"p":4,"c":10,"y":94.4,"xl":9.94,"xr":10.06},{"p":4,"c":10,"y":110,"xl":9.87,"xr":10.13},{"p":4,"c":10,"y":123.5,"xl":9.8,"xr":10.2},{"p":4,"c":10,"y":149.4,"xl":9.74,"xr":10.26},{"p":4,"c":10,"y":175.2,"xl":9.8,"xr":10.2},{"p":4,"c":10,"y":190,"xl":9.87,"xr":10.13},{"p":4,"c":10,"y":204.3,"xl":9.94,"xr":10.06},{"p":4,"c":10,"y":217.3,"xl":10,"xr":10},
{"p":4,"c":11,"y":81.5,"xl":11,"xr":11},{"p":4,"c":11,"y":94.4,"xl":10.94,"xr":11.06},{"p":4,"c":11,"y":110,"xl":10.87,"xr":11.13},{"p":4,"c":11,"y":123.5,"xl":10.8,"xr":11.2},{"p":4,"c":11,"y":149.4,"xl":10.76,"xr":11.24},{"p":4,"c":11,"y":175.2,"xl":10.8,"xr":11.2},{"p":4,"c":11,"y":190,"xl":10.87,"xr":11.13},{"p":4,"c":11,"y":204.3,"xl":10.94,"xr":11.06},{"p":4,"c":11,"y":217.3,"xl":11,"xr":11},
{"p":4,"c":12,"y":81.5,"xl":12,"xr":12},{"p":4,"c":12,"y":94.4,"xl":11.94,"xr":12.06},{"p":4,"c":12,"y":110,"xl":11.87,"xr":12.13},{"p":4,"c":12,"y":123.5,"xl":11.8,"xr":12.2},{"p":4,"c":12,"y":149.4,"xl":11.76,"xr":12.24},{"p":4,"c":12,"y":175.2,"xl":11.8,"xr":12.2},{"p":4,"c":12,"y":190,"xl":11.87,"xr":12.13},{"p":4,"c":12,"y":204.3,"xl":11.94,"xr":12.06},{"p":4,"c":12,"y":217.3,"xl":12,"xr":12},
{"p":4,"c":13,"y":100.9,"xl":13,"xr":13},{"p":4,"c":13,"y":115,"xl":12.88,"xr":13.12},{"p":4,"c":13,"y":135,"xl":12.8,"xr":13.2},{"p":4,"c":13,"y":149.4,"xl":12.76,"xr":13.24},{"p":4,"c":13,"y":165,"xl":12.8,"xr":13.2},{"p":4,"c":13,"y":185,"xl":12.88,"xr":13.12},{"p":4,"c":13,"y":197.9,"xl":13,"xr":13},
{"p":4,"c":14,"y":81.5,"xl":14,"xr":14},{"p":4,"c":14,"y":94.4,"xl":13.94,"xr":14.06},{"p":4,"c":14,"y":110,"xl":13.87,"xr":14.13},{"p":4,"c":14,"y":123.5,"xl":13.8,"xr":14.2},{"p":4,"c":14,"y":149.4,"xl":13.76,"xr":14.24},{"p":4,"c":14,"y":175.2,"xl":13.8,"xr":14.2},{"p":4,"c":14,"y":190,"xl":13.87,"xr":14.13},{"p":4,"c":14,"y":204.3,"xl":13.94,"xr":14.06},{"p":4,"c":14,"y":217.3,"xl":14,"xr":14},
{"p":4,"c":15,"y":81.5,"xl":15,"xr":15},{"p":4,"c":15,"y":94.4,"xl":14.94,"xr":15.06},{"p":4,"c":15,"y":110,"xl":14.87,"xr":15.13},{"p":4,"c":15,"y":123.5,"xl":14.8,"xr":15.2},{"p":4,"c":15,"y":149.4,"xl":14.76,"xr":15.24},{"p":4,"c":15,"y":175.2,"xl":14.8,"xr":15.2},{"p":4,"c":15,"y":190,"xl":14.87,"xr":15.13},{"p":4,"c":15,"y":204.3,"xl":14.94,"xr":15.06},{"p":4,"c":15,"y":217.3,"xl":15,"xr":15},
{"p":5,"c":0,"y":330,"xl":0,"xr":0},{"p":5,"c":0,"y":338,"xl":-0.04,"xr":0.04},{"p":5,"c":0,"y":346.5,"xl":-0.15,"xr":0.15},{"p":5,"c":0,"y":356,"xl":-0.24,"xr":0.24},{"p":5,"c":0,"y":366,"xl":-0.255,"xr":0.255},{"p":5,"c":0,"y":375,"xl":-0.2,"xr":0.2},{"p":5,"c":0,"y":381,"xl":-0.1,"xr":0.1},{"p":5,"c":0,"y":388.6,"xl":0,"xr":0},
{"p":5,"c":1,"y":11.3,"xl":1,"xr":1},{"p":5,"c":1,"y":16.2,"xl":0.8,"xr":1.2},{"p":5,"c":1,"y":19.4,"xl":0.75,"xr":1.25},{"p":5,"c":1,"y":25.9,"xl":0.83,"xr":1.17},{"p":5,"c":1,"y":35.6,"xl":0.94,"xr":1.06},{"p":5,"c":1,"y":45.3,"xl":1,"xr":1},
{"p":5,"c":2,"y":16.2,"xl":2,"xr":2},{"p":5,"c":2,"y":19.4,"xl":1.8,"xr":2.2},{"p":5,"c":2,"y":22.7,"xl":2,"xr":2},
{"p":5,"c":3,"y":18,"xl":3,"xr":3},{"p":5,"c":3,"y":19.4,"xl":2.8,"xr":3.2},{"p":5,"c":3,"y":21,"xl":3,"xr":3},
{"p":5,"c":4,"y":18,"xl":4,"xr":4},{"p":5,"c":4,"y":19.4,"xl":3.85,"xr":4.15},{"p":5,"c":4,"y":20.5,"xl":4,"xr":4},
{"p":5,"c":5,"y":18.5,"xl":5,"xr":5},{"p":5,"c":5,"y":19.4,"xl":4.8,"xr":5.2},{"p":5,"c":5,"y":20.5,"xl":5,"xr":5},
{"p":5,"c":6,"y":18.5,"xl":6,"xr":6},{"p":5,"c":6,"y":19.4,"xl":5.8,"xr":6.2},{"p":5,"c":6,"y":20.3,"xl":6,"xr":6},
{"p":5,"c":7,"y":20.7,"xl":7,"xr":7},{"p":5,"c":7,"y":21.7,"xl":6.75,"xr":7.25},{"p":5,"c":7,"y":22.7,"xl":7,"xr":7},
{"p":6,"c":0,"y":35.6,"xl":0,"xr":0},{"p":6,"c":0,"y":45.3,"xl":-0.015,"xr":0.015},{"p":6,"c":0,"y":64.7,"xl":-0.075,"xr":0.075},{"p":6,"c":0,"y":80.9,"xl":-0.18,"xr":0.18},{"p":6,"c":0,"y":97.1,"xl":-0.253,"xr":0.253},{"p":6,"c":0,"y":113.3,"xl":-0.18,"xr":0.18},{"p":6,"c":0,"y":129.4,"xl":-0.075,"xr":0.075},{"p":6,"c":0,"y":142.4,"xl":-0.015,"xr":0.015},{"p":6,"c":0,"y":152.1,"xl":0,"xr":0},
{"p":6,"c":1,"y":291.3,"xl":1,"xr":1},{"p":6,"c":1,"y":294.5,"xl":0.988,"xr":1.012},{"p":6,"c":1,"y":307.4,"xl":0.955,"xr":1.045},{"p":6,"c":1,"y":320.4,"xl":0.85,"xr":1.15},{"p":6,"c":1,"y":333.3,"xl":0.747,"xr":1.253},{"p":6,"c":1,"y":346.3,"xl":0.88,"xr":1.12},{"p":6,"c":1,"y":359.2,"xl":0.977,"xr":1.023},{"p":6,"c":1,"y":372.2,"xl":1,"xr":1}
]
},
"spacing": 50,
"vconcat": [
{"spacing": 17, "hconcat": [
{"width": 517, "height": 412, "title": "Goodness of Fit of IndegreeDistribution",
 "encoding": {
  "x": {"field": "c", "type": "quantitative", "scale": {"domain": [-0.61, 8.61], "nice": false, "zero": false}, "axis": {"values": [0,1,2,3,4,5,6,7,8], "format": "d", "title": "p: 0.237"}},
  "y": {"field": "y", "type": "quantitative", "scale": {"domain": [0, 400], "nice": false, "zero": false}, "axis": {"title": "Statistic"}}},
 "layer": [
  {"data": {"name": "band"}, "transform": [{"filter": "datum.p == 1"}], "mark": {"type": "line", "stroke": "#b0b0b0", "strokeWidth": 2, "strokeDash": [4, 4], "interpolate": "monotone"}, "encoding": {"detail": {"field": "q"}}},
  {"data": {"name": "sum"}, "transform": [{"filter": "datum.p == 1"}], "mark": {"type": "rule", "stroke": "#222222", "strokeWidth": 0.9}, "encoding": {"y": {"field": "elo", "type": "quantitative"}, "y2": {"field": "ehi"}}},
  {"data": {"name": "crs"}, "transform": [{"filter": "datum.p == 1"}], "mark": {"type": "point", "shape": "M-1,-1L1,1M-1,1L1,-1", "size": 30, "filled": false, "stroke": "#222222", "strokeWidth": 0.7, "opacity": 1}},
  {"data": {"name": "viol"}, "transform": [{"filter": "datum.p == 1"}], "mark": {"type": "area", "orient": "horizontal", "interpolate": "monotone", "fill": "white", "fillOpacity": 0, "stroke": "#222222", "strokeWidth": 0.9}, "encoding": {"x": {"field": "xl", "type": "quantitative"}, "x2": {"field": "xr"}, "detail": {"field": "c"}}},
  {"data": {"name": "sum"}, "transform": [{"filter": "datum.p == 1"}], "mark": {"type": "rule", "stroke": "#222222", "strokeWidth": 0.9, "strokeDash": [3, 2]}, "encoding": {"y": {"field": "vlo", "type": "quantitative"}, "y2": {"field": "vhi"}}},
  {"data": {"name": "sum"}, "transform": [{"filter": "datum.p == 1"}], "mark": {"type": "bar", "size": 7, "fill": "#bebebe", "stroke": "#333333", "strokeWidth": 0.8}, "encoding": {"y": {"field": "lo", "type": "quantitative"}, "y2": {"field": "hi"}}},
  {"data": {"name": "sum"}, "transform": [{"filter": "datum.p == 1"}], "mark": {"type": "point", "shape": "circle", "filled": true, "fill": "black", "size": 28, "opacity": 1}, "encoding": {"y": {"field": "med", "type": "quantitative"}}},
  {"data": {"name": "obs"}, "transform": [{"filter": "datum.p == 1"}], "mark": {"type": "line", "stroke": "#f03030", "strokeWidth": 1}},
  {"data": {"name": "obs"}, "transform": [{"filter": "datum.p == 1"}], "mark": {"type": "point", "shape": "circle", "filled": true, "fill": "#ff0000", "size": 30, "opacity": 1}},
  {"data": {"name": "obs"}, "transform": [{"filter": "datum.p == 1"}], "mark": {"type": "text", "align": "left", "baseline": "middle", "dx": 5, "fontSize": 13, "fill": "#333333"}, "encoding": {"text": {"field": "lab"}}}
 ]},
{"width": 517, "height": 412, "title": "Goodness of Fit of OutdegreeDistribution",
 "encoding": {
  "x": {"field": "c", "type": "quantitative", "scale": {"domain": [-0.6, 5.6], "nice": false, "zero": false}, "axis": {"values": [0,1,2,3,4,5], "format": "d", "title": "p: 0"}},
  "y": {"field": "y", "type": "quantitative", "scale": {"domain": [0, 400], "nice": false, "zero": false}, "axis": {"title": "Statistic"}}},
 "layer": [
  {"data": {"name": "band"}, "transform": [{"filter": "datum.p == 2"}], "mark": {"type": "line", "stroke": "#b0b0b0", "strokeWidth": 2, "strokeDash": [4, 4], "interpolate": "monotone"}, "encoding": {"detail": {"field": "q"}}},
  {"data": {"name": "sum"}, "transform": [{"filter": "datum.p == 2"}], "mark": {"type": "rule", "stroke": "#222222", "strokeWidth": 0.9}, "encoding": {"y": {"field": "elo", "type": "quantitative"}, "y2": {"field": "ehi"}}},
  {"data": {"name": "crs"}, "transform": [{"filter": "datum.p == 2"}], "mark": {"type": "point", "shape": "M-1,-1L1,1M-1,1L1,-1", "size": 30, "filled": false, "stroke": "#222222", "strokeWidth": 0.7, "opacity": 1}},
  {"data": {"name": "viol"}, "transform": [{"filter": "datum.p == 2"}], "mark": {"type": "area", "orient": "horizontal", "interpolate": "monotone", "fill": "white", "fillOpacity": 0, "stroke": "#222222", "strokeWidth": 0.9}, "encoding": {"x": {"field": "xl", "type": "quantitative"}, "x2": {"field": "xr"}, "detail": {"field": "c"}}},
  {"data": {"name": "sum"}, "transform": [{"filter": "datum.p == 2"}], "mark": {"type": "rule", "stroke": "#222222", "strokeWidth": 0.9, "strokeDash": [3, 2]}, "encoding": {"y": {"field": "vlo", "type": "quantitative"}, "y2": {"field": "vhi"}}},
  {"data": {"name": "sum"}, "transform": [{"filter": "datum.p == 2"}], "mark": {"type": "bar", "size": 7, "fill": "#bebebe", "stroke": "#333333", "strokeWidth": 0.8}, "encoding": {"y": {"field": "lo", "type": "quantitative"}, "y2": {"field": "hi"}}},
  {"data": {"name": "sum"}, "transform": [{"filter": "datum.p == 2"}], "mark": {"type": "point", "shape": "circle", "filled": true, "fill": "black", "size": 28, "opacity": 1}, "encoding": {"y": {"field": "med", "type": "quantitative"}}},
  {"data": {"name": "obs"}, "transform": [{"filter": "datum.p == 2"}], "mark": {"type": "line", "stroke": "#f03030", "strokeWidth": 1}},
  {"data": {"name": "obs"}, "transform": [{"filter": "datum.p == 2"}], "mark": {"type": "point", "shape": "circle", "filled": true, "fill": "#ff0000", "size": 30, "opacity": 1}},
  {"data": {"name": "obs"}, "transform": [{"filter": "datum.p == 2"}], "mark": {"type": "text", "align": "left", "baseline": "middle", "dx": 5, "fontSize": 13, "fill": "#333333"}, "encoding": {"text": {"field": "lab"}}}
 ]}
]},
{"spacing": 17, "hconcat": [
{"width": 517, "height": 412, "title": "Goodness of Fit of GeodesicDistribution",
 "encoding": {
  "x": {"field": "c", "type": "quantitative", "scale": {"domain": [-0.6, 5.6], "nice": false, "zero": false}, "axis": {"values": [0,1,2,3,4,5], "labelExpr": "['1','2','3','4','5','Inf'][datum.value]", "title": "p: 0"}},
  "y": {"field": "y", "type": "quantitative", "scale": {"domain": [0, 400], "nice": false, "zero": false}, "axis": {"title": "Statistic"}}},
 "layer": [
  {"data": {"name": "band"}, "transform": [{"filter": "datum.p == 3"}], "mark": {"type": "line", "stroke": "#b0b0b0", "strokeWidth": 2, "strokeDash": [4, 4], "interpolate": "monotone"}, "encoding": {"detail": {"field": "q"}}},
  {"data": {"name": "sum"}, "transform": [{"filter": "datum.p == 3"}], "mark": {"type": "rule", "stroke": "#222222", "strokeWidth": 0.9}, "encoding": {"y": {"field": "elo", "type": "quantitative"}, "y2": {"field": "ehi"}}},
  {"data": {"name": "crs"}, "transform": [{"filter": "datum.p == 3"}], "mark": {"type": "point", "shape": "M-1,-1L1,1M-1,1L1,-1", "size": 30, "filled": false, "stroke": "#222222", "strokeWidth": 0.7, "opacity": 1}},
  {"data": {"name": "viol"}, "transform": [{"filter": "datum.p == 3"}], "mark": {"type": "area", "orient": "horizontal", "interpolate": "monotone", "fill": "white", "fillOpacity": 0, "stroke": "#222222", "strokeWidth": 0.9}, "encoding": {"x": {"field": "xl", "type": "quantitative"}, "x2": {"field": "xr"}, "detail": {"field": "c"}}},
  {"data": {"name": "sum"}, "transform": [{"filter": "datum.p == 3"}], "mark": {"type": "rule", "stroke": "#222222", "strokeWidth": 0.9, "strokeDash": [3, 2]}, "encoding": {"y": {"field": "vlo", "type": "quantitative"}, "y2": {"field": "vhi"}}},
  {"data": {"name": "sum"}, "transform": [{"filter": "datum.p == 3"}], "mark": {"type": "bar", "size": 8, "fill": "#bebebe", "stroke": "#333333", "strokeWidth": 0.8}, "encoding": {"y": {"field": "lo", "type": "quantitative"}, "y2": {"field": "hi"}}},
  {"data": {"name": "sum"}, "transform": [{"filter": "datum.p == 3"}], "mark": {"type": "point", "shape": "circle", "filled": true, "fill": "black", "size": 28, "opacity": 1}, "encoding": {"y": {"field": "med", "type": "quantitative"}}},
  {"data": {"name": "obs"}, "transform": [{"filter": "datum.p == 3"}], "mark": {"type": "line", "stroke": "#f03030", "strokeWidth": 1}},
  {"data": {"name": "obs"}, "transform": [{"filter": "datum.p == 3"}], "mark": {"type": "point", "shape": "circle", "filled": true, "fill": "#ff0000", "size": 30, "opacity": 1}},
  {"data": {"name": "obs"}, "transform": [{"filter": "datum.p == 3"}], "mark": {"type": "text", "align": "left", "baseline": "middle", "dx": 5, "fontSize": 13, "fill": "#333333"}, "encoding": {"text": {"field": "lab"}}}
 ]},
{"width": 517, "height": 412, "title": "Goodness of Fit of TriadCensus",
 "encoding": {
  "x": {"field": "c", "type": "quantitative", "scale": {"domain": [-0.58, 15.58], "nice": false, "zero": false}, "axis": {"values": [0,1,2,3,4,5,6,7,8,9,10,11,12,13,14,15], "labelExpr": "['003','012','102','021D','021U','021C','111D','111U','030T','030C','201','120D','120U','120C','210','300'][datum.value]", "title": "p: 0"}},
  "y": {"field": "y", "type": "quantitative", "scale": {"domain": [0, 400], "nice": false, "zero": false}, "axis": {"title": "Statistic (centered and scaled)"}}},
 "layer": [
  {"data": {"name": "band"}, "transform": [{"filter": "datum.p == 4"}], "mark": {"type": "line", "stroke": "#b0b0b0", "strokeWidth": 2, "strokeDash": [4, 4], "interpolate": "monotone"}, "encoding": {"detail": {"field": "q"}}},
  {"data": {"name": "sum"}, "transform": [{"filter": "datum.p == 4"}], "mark": {"type": "rule", "stroke": "#222222", "strokeWidth": 0.9}, "encoding": {"y": {"field": "elo", "type": "quantitative"}, "y2": {"field": "ehi"}}},
  {"data": {"name": "crs"}, "transform": [{"filter": "datum.p == 4"}], "mark": {"type": "point", "shape": "M-1,-1L1,1M-1,1L1,-1", "size": 30, "filled": false, "stroke": "#222222", "strokeWidth": 0.8, "opacity": 1}},
  {"data": {"name": "viol"}, "transform": [{"filter": "datum.p == 4"}], "mark": {"type": "area", "orient": "horizontal", "interpolate": "monotone", "fill": "white", "fillOpacity": 0, "stroke": "#222222", "strokeWidth": 0.9}, "encoding": {"x": {"field": "xl", "type": "quantitative"}, "x2": {"field": "xr"}, "detail": {"field": "c"}}},
  {"data": {"name": "sum"}, "transform": [{"filter": "datum.p == 4"}], "mark": {"type": "rule", "stroke": "#222222", "strokeWidth": 0.9, "strokeDash": [3, 2]}, "encoding": {"y": {"field": "vlo", "type": "quantitative"}, "y2": {"field": "vhi"}}},
  {"data": {"name": "sum"}, "transform": [{"filter": "datum.p == 4"}], "mark": {"type": "bar", "size": 5, "fill": "#9a9a9a", "stroke": "#333333", "strokeWidth": 0.8}, "encoding": {"y": {"field": "lo", "type": "quantitative"}, "y2": {"field": "hi"}}},
  {"data": {"name": "sum"}, "transform": [{"filter": "datum.p == 4"}], "mark": {"type": "point", "shape": "circle", "filled": true, "fill": "black", "size": 25, "opacity": 1}, "encoding": {"y": {"field": "med", "type": "quantitative"}}},
  {"data": {"name": "obs"}, "transform": [{"filter": "datum.p == 4"}], "mark": {"type": "line", "stroke": "#f03030", "strokeWidth": 1}},
  {"data": {"name": "obs"}, "transform": [{"filter": "datum.p == 4"}], "mark": {"type": "point", "shape": "circle", "filled": true, "fill": "#ff0000", "size": 30, "opacity": 1}},
  {"data": {"name": "obs"}, "transform": [{"filter": "datum.p == 4"}], "mark": {"type": "text", "align": "left", "baseline": "middle", "dx": 5, "fontSize": 13, "fill": "#333333"}, "encoding": {"text": {"field": "lab"}}}
 ]}
]},
{"spacing": 17, "hconcat": [
{"width": 517, "height": 412, "title": "Goodness of Fit of EigenvalueDistribution",
 "encoding": {
  "x": {"field": "c", "type": "quantitative", "scale": {"domain": [-0.57, 7.57], "nice": false, "zero": false}, "axis": {"values": [0,1,2,3,4,5,6,7], "labelExpr": "['0.125','0.25','0.375','0.5','0.625','0.75','0.875','1'][datum.value]", "title": "p: 0.184"}},
  "y": {"field": "y", "type": "quantitative", "scale": {"domain": [0, 400], "nice": false, "zero": false}, "axis": {"title": "Statistic"}}},
 "layer": [
  {"data": {"name": "band"}, "transform": [{"filter": "datum.p == 5"}], "mark": {"type": "line", "stroke": "#b0b0b0", "strokeWidth": 2, "strokeDash": [4, 4], "interpolate": "monotone"}, "encoding": {"detail": {"field": "q"}}},
  {"data": {"name": "sum"}, "transform": [{"filter": "datum.p == 5"}], "mark": {"type": "rule", "stroke": "#222222", "strokeWidth": 0.9}, "encoding": {"y": {"field": "elo", "type": "quantitative"}, "y2": {"field": "ehi"}}},
  {"data": {"name": "crs"}, "transform": [{"filter": "datum.p == 5"}], "mark": {"type": "point", "shape": "M-1,-1L1,1M-1,1L1,-1", "size": 30, "filled": false, "stroke": "#222222", "strokeWidth": 1, "opacity": 1}},
  {"data": {"name": "viol"}, "transform": [{"filter": "datum.p == 5"}], "mark": {"type": "area", "orient": "horizontal", "interpolate": "monotone", "fill": "white", "fillOpacity": 0, "stroke": "#222222", "strokeWidth": 0.9}, "encoding": {"x": {"field": "xl", "type": "quantitative"}, "x2": {"field": "xr"}, "detail": {"field": "c"}}},
  {"data": {"name": "sum"}, "transform": [{"filter": "datum.p == 5"}], "mark": {"type": "rule", "stroke": "#222222", "strokeWidth": 0.9, "strokeDash": [3, 2]}, "encoding": {"y": {"field": "vlo", "type": "quantitative"}, "y2": {"field": "vhi"}}},
  {"data": {"name": "sum"}, "transform": [{"filter": "datum.p == 5"}], "mark": {"type": "bar", "size": 6, "fill": "#bebebe", "stroke": "#333333", "strokeWidth": 0.8}, "encoding": {"y": {"field": "lo", "type": "quantitative"}, "y2": {"field": "hi"}}},
  {"data": {"name": "sum"}, "transform": [{"filter": "datum.p == 5"}], "mark": {"type": "point", "shape": "circle", "filled": true, "fill": "black", "size": 28, "opacity": 1}, "encoding": {"y": {"field": "med", "type": "quantitative"}}},
  {"data": {"name": "obs"}, "transform": [{"filter": "datum.p == 5"}], "mark": {"type": "line", "stroke": "#f03030", "strokeWidth": 1}},
  {"data": {"name": "obs"}, "transform": [{"filter": "datum.p == 5"}], "mark": {"type": "point", "shape": "circle", "filled": true, "fill": "#ff0000", "size": 30, "opacity": 1}},
  {"data": {"name": "obs"}, "transform": [{"filter": "datum.p == 5"}], "mark": {"type": "text", "align": "left", "baseline": "middle", "dx": 5, "fontSize": 13, "fill": "#333333"}, "encoding": {"text": {"field": "lab"}}}
 ]},
{"width": 517, "height": 412, "title": "Goodness of Fit of BehaviorDistribution",
 "encoding": {
  "x": {"field": "c", "type": "quantitative", "scale": {"domain": [-0.6, 1.6], "nice": false, "zero": false}, "axis": {"values": [0,1], "labelExpr": "['1','2'][datum.value]", "title": "p: 1"}},
  "y": {"field": "y", "type": "quantitative", "scale": {"domain": [0, 400], "nice": false, "zero": false}, "axis": {"title": "Statistic"}}},
 "layer": [
  {"data": {"name": "band"}, "transform": [{"filter": "datum.p == 6"}], "mark": {"type": "line", "stroke": "#b0b0b0", "strokeWidth": 2, "strokeDash": [4, 4], "interpolate": "monotone"}, "encoding": {"detail": {"field": "q"}}},
  {"data": {"name": "sum"}, "transform": [{"filter": "datum.p == 6"}], "mark": {"type": "rule", "stroke": "#222222", "strokeWidth": 0.9}, "encoding": {"y": {"field": "elo", "type": "quantitative"}, "y2": {"field": "ehi"}}},
  {"data": {"name": "crs"}, "transform": [{"filter": "datum.p == 6"}], "mark": {"type": "point", "shape": "M-1,-1L1,1M-1,1L1,-1", "size": 30, "filled": false, "stroke": "#222222", "strokeWidth": 0.7, "opacity": 1}},
  {"data": {"name": "viol"}, "transform": [{"filter": "datum.p == 6"}], "mark": {"type": "area", "orient": "horizontal", "interpolate": "monotone", "fill": "white", "fillOpacity": 0, "stroke": "#222222", "strokeWidth": 0.9}, "encoding": {"x": {"field": "xl", "type": "quantitative"}, "x2": {"field": "xr"}, "detail": {"field": "c"}}},
  {"data": {"name": "sum"}, "transform": [{"filter": "datum.p == 6"}], "mark": {"type": "rule", "stroke": "#222222", "strokeWidth": 0.9, "strokeDash": [3, 2]}, "encoding": {"y": {"field": "vlo", "type": "quantitative"}, "y2": {"field": "vhi"}}},
  {"data": {"name": "caps"}, "mark": {"type": "tick", "orient": "horizontal", "size": 20, "thickness": 1, "color": "#222222", "opacity": 1}},
  {"data": {"name": "sum"}, "transform": [{"filter": "datum.p == 6"}], "mark": {"type": "bar", "size": 21, "fill": "#bebebe", "stroke": "#333333", "strokeWidth": 0.8}, "encoding": {"y": {"field": "lo", "type": "quantitative"}, "y2": {"field": "hi"}}},
  {"data": {"name": "obs"}, "transform": [{"filter": "datum.p == 6"}], "mark": {"type": "line", "stroke": "#f03030", "strokeWidth": 1}},
  {"data": {"name": "obs"}, "transform": [{"filter": "datum.p == 6"}], "mark": {"type": "point", "shape": "circle", "filled": true, "fill": "#ff0000", "size": 30, "opacity": 1}},
  {"data": {"name": "obs"}, "transform": [{"filter": "datum.p == 6"}], "mark": {"type": "text", "align": "left", "baseline": "middle", "dx": 5, "fontSize": 13, "fill": "#333333"}, "encoding": {"text": {"field": "lab"}}}
 ]}
]}
]
}
